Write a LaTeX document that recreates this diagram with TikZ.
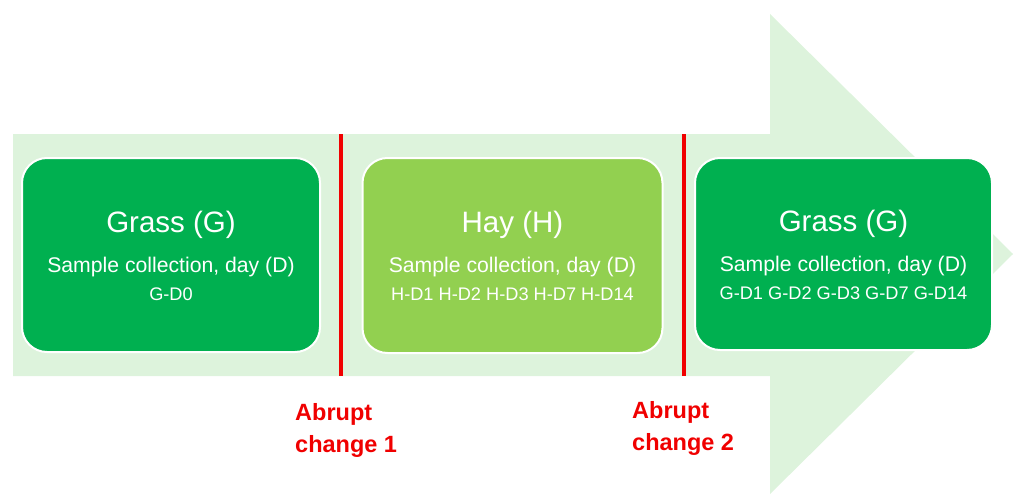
\documentclass[tikz,border=0pt]{standalone}
\usepackage{fontspec}
\setmainfont{Liberation Sans}
\definecolor{grassgreen}{HTML}{00B050}
\definecolor{haygreen}{HTML}{92D050}
\definecolor{arrowbg}{RGB}{221,243,220}
\definecolor{changered}{HTML}{F00000}
\tikzset{
	phasebox/.style={draw=white, line width=2pt, rounded corners=25pt, minimum width=298pt, minimum height=194pt},
	phasetitle/.style={anchor=base, text=white, font=\fontsize{29.5}{34}\selectfont},
	phasesub/.style={anchor=base, text=white, font=\fontsize{21.2}{25}\selectfont},
	phasedays/.style={anchor=base, text=white, font=\fontsize{18.2}{22}\selectfont},
	changelabel/.style={anchor=base west, inner sep=0pt, text=changered, align=left, font=\fontsize{23.5}{31.5}\selectfont\bfseries},
}
\begin{document}
\begin{tikzpicture}[x=1pt, y=-1pt]
	\useasboundingbox (0,0) rectangle (1021,495);
	% big arrow behind everything
	\fill[arrowbg] (13,134) -- (770,134) -- (770,14) -- (1013,254) -- (770,494) -- (770,376) -- (13,376) -- cycle;
	% the three feeding phases
	\node[phasebox, fill=grassgreen] (grass1) at (171,255) {};
	\node[phasebox, fill=haygreen, minimum width=300pt, minimum height=195pt] (hay) at (512.5,255.5) {};
	\node[phasebox, fill=grassgreen, minimum width=297pt, minimum height=192pt] (grass2) at (843.5,254) {};
	\foreach \b/\t/\d in {grass1/Grass (G)/G-D0, hay/Hay (H)/H-D1 H-D2 H-D3 H-D7 H-D14, grass2/Grass (G)/G-D1 G-D2 G-D3 G-D7 G-D14}{
		\node[phasetitle] (\b-title) at ([yshift=23pt]\b.center) {\t};
		\node[phasesub] (\b-sub) at ([yshift=-17pt]\b.center) {Sample collection, day (D)};
		\node[phasedays] (\b-days) at ([yshift=-45pt]\b.center) {\d};
	}
	% abrupt changes
	\draw[changered, line width=4.5pt] (341,134) -- (341,376);
	\draw[changered, line width=4.5pt] (684,134) -- (684,376);
	\node[changelabel] (change1) at (295,452) {Abrupt\\change 1};
	\node[changelabel] (change2) at (632,450) {Abrupt\\change 2};
	\end{tikzpicture}
\end{document}
